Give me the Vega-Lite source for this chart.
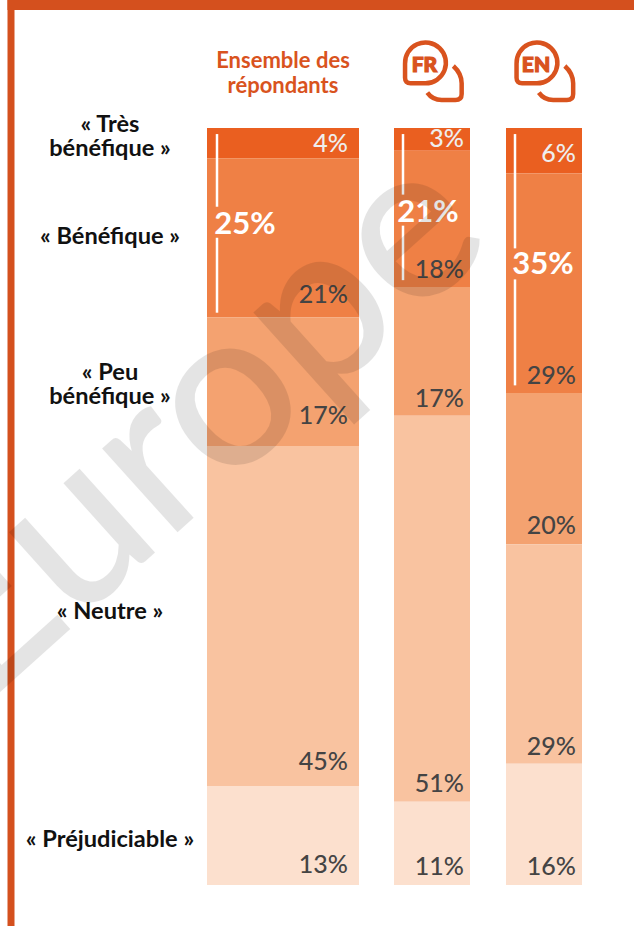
{
"$schema":"https://vega.github.io/schema/vega-lite/v6.json",
"width":634,"height":926,"padding":0,"autosize":{"type":"none"},
"background":"white","view":{"stroke":null},
"config":{"axis":{"grid":false},"text":{"font":"Lato"}},
"datasets":{
"main":[
{"col":"Ensemble","rank":1,"level":"Très bénéfique","value":4},
{"col":"Ensemble","rank":2,"level":"Bénéfique","value":21},
{"col":"Ensemble","rank":3,"level":"Peu bénéfique","value":17},
{"col":"Ensemble","rank":4,"level":"Neutre","value":45},
{"col":"Ensemble","rank":5,"level":"Préjudiciable","value":13},
{"col":"FR","rank":1,"level":"Très bénéfique","value":3},
{"col":"FR","rank":2,"level":"Bénéfique","value":18},
{"col":"FR","rank":3,"level":"Peu bénéfique","value":17},
{"col":"FR","rank":4,"level":"Neutre","value":51},
{"col":"FR","rank":5,"level":"Préjudiciable","value":11},
{"col":"EN","rank":1,"level":"Très bénéfique","value":6},
{"col":"EN","rank":2,"level":"Bénéfique","value":29},
{"col":"EN","rank":3,"level":"Peu bénéfique","value":20},
{"col":"EN","rank":4,"level":"Neutre","value":29},
{"col":"EN","rank":5,"level":"Préjudiciable","value":16}
],
"totals":[
{"col":"Ensemble","from":0.8,"to":10.4,"from2":14.5,"to2":24.4,"at":12.8,"total":"25%"},
{"col":"FR","from":0.8,"to":8.8,"from2":12.9,"to2":20.1,"at":11.25,"total":"21%"},
{"col":"EN","from":0.8,"to":15.9,"from2":20.0,"to2":34.0,"at":18.15,"total":"35%"}
],
"rows":[
{"label":"« Très\nbénéfique »","at":-0.45},
{"label":"« Bénéfique »","at":14.35},
{"label":"« Peu\nbénéfique »","at":32.4},
{"label":"« Neutre »","at":64.0},
{"label":"« Préjudiciable »","at":94.1}
]
},
"data":{"name":"main"},
"transform":[
{"stack":"value","groupby":["col"],"sort":[{"field":"rank","order":"ascending"}],"as":["y0","y1"]},
{"calculate":"{'Ensemble':283,'FR':432,'EN':544}[datum.col]","as":"xc"},
{"calculate":"{'Ensemble':76,'FR':38,'EN':38}[datum.col]","as":"hw"},
{"calculate":"datum.xc-datum.hw","as":"xl"},
{"calculate":"datum.xc+datum.hw","as":"xr"},
{"calculate":"datum.value+'%'","as":"label"}
],
"layer":[
{"mark":{"type":"rect"},
 "encoding":{
 "x":{"field":"xl","type":"quantitative","axis":null,"scale":{"domain":[0,634],"range":[0,634]}},
 "x2":{"field":"xr"},
 "y":{"field":"y0","type":"quantitative","axis":null,"scale":{"domain":[-16.91,105.42],"range":[0,926]}},
 "y2":{"field":"y1"},
 "color":{"field":"rank","type":"ordinal","legend":null,"scale":{"domain":[1,2,3,4,5],"range":["#ea5f20","#ef8045","#f4a270","#f9c3a0","#fce0ce"]}}
 }},
{"mark":{"type":"text","align":"right","baseline":"alphabetic","fontSize":25,"fontWeight":500,"letterSpacing":1,
 "dx":{"expr":"datum.col==='Ensemble'?65:32"},
 "dy":{"expr":"-{'Ensemble1':6,'Ensemble2':14,'Ensemble3':22,'Ensemble4':17,'Ensemble5':12,'FR1':4,'FR2':9,'FR3':9,'FR4':10,'FR5':10,'EN1':11,'EN2':9,'EN3':10,'EN4':9,'EN5':10}[datum.col+datum.rank]"}},
 "encoding":{
 "x":{"field":"xc","type":"quantitative","axis":null,"scale":{"domain":[0,634],"range":[0,634]}},
 "y":{"field":"y1","type":"quantitative","axis":null,"scale":{"domain":[-16.91,105.42],"range":[0,926]}},
 "text":{"field":"label"},
 "color":{"condition":{"test":"datum.rank===1","value":"#eeeeee"},"value":"#444444"}
 }},
{"data":{"name":"totals"},
 "transform":[{"calculate":"{'Ensemble':217,'FR':403,'EN':515}[datum.col]","as":"xb"}],
 "mark":{"type":"rule","stroke":"white","strokeWidth":2.5},
 "encoding":{
 "x":{"field":"xb","type":"quantitative","axis":null,"scale":{"domain":[0,634],"range":[0,634]}},
 "y":{"field":"from","type":"quantitative","axis":null,"scale":{"domain":[-16.91,105.42],"range":[0,926]}},
 "y2":{"field":"to"}
 }},
{"data":{"name":"totals"},
 "transform":[{"calculate":"{'Ensemble':217,'FR':403,'EN':515}[datum.col]","as":"xb"}],
 "mark":{"type":"rule","stroke":"white","strokeWidth":2.5},
 "encoding":{
 "x":{"field":"xb","type":"quantitative","axis":null,"scale":{"domain":[0,634],"range":[0,634]}},
 "y":{"field":"from2","type":"quantitative","axis":null,"scale":{"domain":[-16.91,105.42],"range":[0,926]}},
 "y2":{"field":"to2"}
 }},
{"data":{"name":"totals"},
 "transform":[{"calculate":"{'Ensemble':245,'FR':428,'EN':543}[datum.col]","as":"xt"}],
 "mark":{"type":"text","fontSize":31,"fontWeight":"bold","color":"white","align":"center","baseline":"middle","letterSpacing":1},
 "encoding":{
 "x":{"field":"xt","type":"quantitative","axis":null,"scale":{"domain":[0,634],"range":[0,634]}},
 "y":{"field":"at","type":"quantitative","axis":null,"scale":{"domain":[-16.91,105.42],"range":[0,926]}},
 "text":{"field":"total"}
 }},
{"data":{"name":"rows"},
 "mark":{"type":"text","fontSize":23.6,"fontWeight":"bold","color":"#111111","align":"center","baseline":"middle","lineBreak":"\n","lineHeight":24},
 "encoding":{
 "x":{"datum":110,"type":"quantitative","axis":null,"scale":{"domain":[0,634],"range":[0,634]}},
 "y":{"field":"at","type":"quantitative","axis":null,"scale":{"domain":[-16.91,105.42],"range":[0,926]}},
 "text":{"field":"label"}
 }},
{"data":{"values":[{"head":"Ensemble des\nrépondants"}]},
 "mark":{"type":"text","fontSize":22,"fontWeight":"bold","color":"#d9531e","align":"center","baseline":"middle","lineBreak":"\n","lineHeight":25},
 "encoding":{
 "x":{"datum":283,"type":"quantitative","axis":null,"scale":{"domain":[0,634],"range":[0,634]}},
 "y":{"datum":-8.85,"type":"quantitative","axis":null,"scale":{"domain":[-16.91,105.42],"range":[0,926]}},
 "text":{"field":"head"}
 }},
{"data":{"values":[{"lang":"FR","xi":432.5},{"lang":"EN","xi":544}]},
 "mark":{"type":"point","filled":false,"stroke":"#d9531e","strokeWidth":4.5,"opacity":1,"size":3721,
 "shape":"M -0.23 0.372 A 0.67 0.67 0 1 0 -0.90 -0.27 L -0.90 0.19 Q -0.90 0.372 -0.72 0.372 Z M 0.683 -0.197 Q 0.956 0.05 0.956 0.372 L 0.956 0.72 Q 0.956 0.918 0.75 0.918 L 0.30 0.918 Q 0 0.918 -0.17 0.678"},
 "encoding":{
 "x":{"field":"xi","type":"quantitative","axis":null,"scale":{"domain":[0,634],"range":[0,634]}},
 "y":{"datum":-7.4,"type":"quantitative","axis":null,"scale":{"domain":[-16.91,105.42],"range":[0,926]}}
 }},
{"data":{"values":[{"lang":"FR","xi":432.5},{"lang":"EN","xi":544}]},
 "mark":{"type":"text","fontSize":21,"fontWeight":900,"color":"#d9531e","stroke":"#d9531e","strokeWidth":1.2,"align":"center","baseline":"middle","dx":-8},
 "encoding":{
 "x":{"field":"xi","type":"quantitative","axis":null,"scale":{"domain":[0,634],"range":[0,634]}},
 "y":{"datum":-8.2,"type":"quantitative","axis":null,"scale":{"domain":[-16.91,105.42],"range":[0,926]}},
 "text":{"field":"lang"}
 }},
{"data":{"values":[{"part":"left"}]},
 "mark":{"type":"rule","stroke":"#d4501e","strokeWidth":7},
 "encoding":{
 "x":{"datum":11,"type":"quantitative","axis":null,"scale":{"domain":[0,634],"range":[0,634]}},
 "y":{"datum":-16.91,"type":"quantitative","axis":null,"scale":{"domain":[-16.91,105.42],"range":[0,926]}},
 "y2":{"datum":105.42}
 }},
{"data":{"values":[{"part":"top"}]},
 "mark":{"type":"rule","stroke":"#d4501e","strokeWidth":10},
 "encoding":{
 "x":{"datum":7.5,"type":"quantitative","axis":null,"scale":{"domain":[0,634],"range":[0,634]}},
 "x2":{"datum":634},
 "y":{"datum":-16.25,"type":"quantitative","axis":null,"scale":{"domain":[-16.91,105.42],"range":[0,926]}}
 }},
{"data":{"values":[{"mark":"Europe"}]},
 "mark":{"type":"text","font":"Lato","fontSize":222,"fontWeight":500,"color":"#000000","opacity":0.1,"angle":318,"align":"center","baseline":"alphabetic"},
 "encoding":{
 "x":{"datum":240,"type":"quantitative","axis":null,"scale":{"domain":[0,634],"range":[0,634]}},
 "y":{"datum":46,"type":"quantitative","axis":null,"scale":{"domain":[-16.91,105.42],"range":[0,926]}},
 "text":{"field":"mark"}
 }}
]
}
